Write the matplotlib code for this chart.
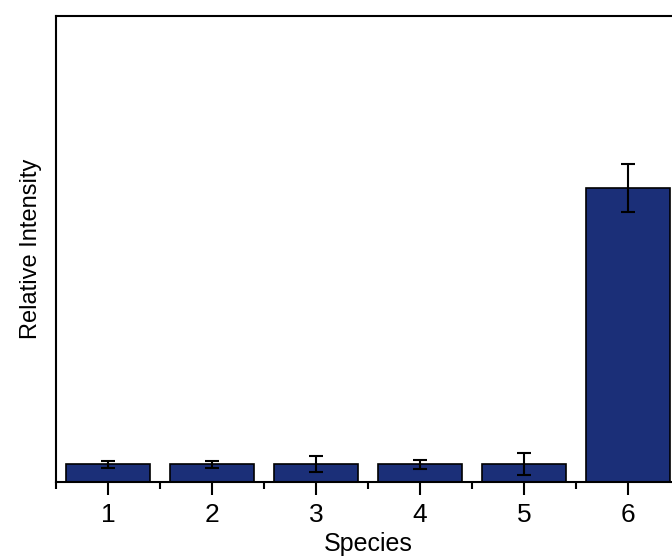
import matplotlib
matplotlib.use("Agg")
import matplotlib.pyplot as plt
from matplotlib.ticker import MultipleLocator

plt.rcParams['font.family'] = ['Liberation Sans', 'DejaVu Sans']

species = [1, 2, 3, 4, 5, 6]
intensity = [3.8, 3.8, 3.8, 3.8, 3.8, 63.1]
errors = [0.7, 0.7, 1.7, 1.0, 2.4, 5.2]

fig = plt.figure(figsize=(6.72, 5.59), dpi=100)
ax = fig.add_axes([56/672, 1 - 482/559, (680 - 56)/672, (482 - 16)/559])

ax.bar(species, intensity, width=0.8, color='#1b2f78', edgecolor='black',
       linewidth=1.2, yerr=errors, capsize=5,
       error_kw=dict(elinewidth=1.5, capthick=1.5, ecolor='black'))

ax.set_xlim(0.5, 6.5)
ax.set_ylim(0, 100)
ax.set_xticks(species)
ax.xaxis.set_minor_locator(MultipleLocator(0.5))
ax.tick_params(axis='x', which='major', direction='out', length=9, width=1.5,
               labelsize=19, pad=6)
ax.tick_params(axis='x', which='minor', direction='out', length=5, width=1.5)
ax.set_yticks([])
for s in ax.spines.values():
    s.set_linewidth(1.5)

ax.set_xlabel('Species', fontsize=18, labelpad=4)
ax.set_ylabel('Relative Intensity', fontsize=17, labelpad=10)

fig.savefig('out.png', dpi=100)
